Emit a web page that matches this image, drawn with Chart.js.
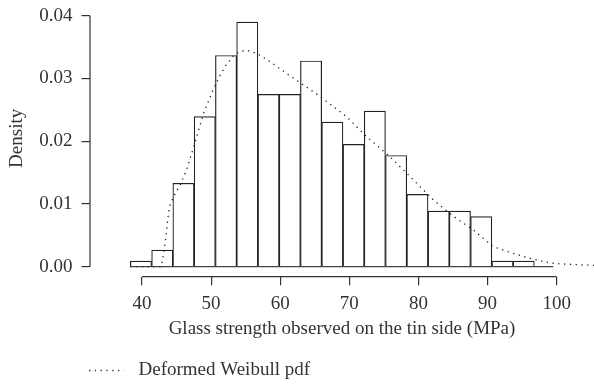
<!DOCTYPE html>
<html>
<head>
<meta charset="utf-8">
<script src="https://cdn.jsdelivr.net/npm/chart.js@4.4.1/dist/chart.umd.min.js"></script>
<style>
  html, body { margin: 0; padding: 0; background: #fff; }
  #wrap { width: 594px; height: 385px; }
</style>
</head>
<body>
<div id="wrap"><canvas id="histChart"></canvas></div>
<script>
// histogram bins (centres, MPa) and densities
var binCenters = [39.85, 42.93, 46.00, 49.08, 52.16, 55.23, 58.31, 61.39, 64.46, 67.54,
                  70.62, 73.69, 76.77, 79.85, 82.93, 86.00, 89.08, 92.16, 95.23];
var binDensity = [0.00089, 0.00266, 0.01329, 0.02392, 0.03366, 0.03898, 0.02746, 0.02746, 0.03278, 0.02303,
                  0.01949, 0.02480, 0.01772, 0.01152, 0.00886, 0.00886, 0.00797, 0.00089, 0.00089];

// deformed Weibull pdf
var pdfX = [38.3, 42.8, 43.1, 43.3, 43.5, 43.7, 43.95, 44.3, 44.8, 45.6, 46.4, 47.4, 48.9, 50.3, 51.2,
            52.2, 53.4, 54.2, 55.1, 56.0, 56.9, 57.8, 59.4, 60.9, 62.5, 65.8, 69.6, 72.5, 75.9, 79.3,
            82.2, 85.1, 88.0, 90.8, 93.2, 95.9, 97.8, 99.7, 101.7, 103.6, 105.5];
var pdfY = [0, 0, 0.0020, 0.0035, 0.0052, 0.0073, 0.0095, 0.0105, 0.0116, 0.0132, 0.0153, 0.0188, 0.0244, 0.0282, 0.0303,
            0.0322, 0.0338, 0.0343, 0.0345, 0.0342, 0.0338, 0.0332, 0.0320, 0.0308, 0.0296, 0.0271, 0.0239, 0.0207, 0.0175, 0.0138,
            0.0106, 0.0080, 0.0058, 0.0032, 0.0023, 0.0014, 0.0009, 0.0005, 0.0004, 0.0003, 0.0002];

var xTicks = [40, 50, 60, 70, 80, 90, 100];
var yTicks = [0, 0.01, 0.02, 0.03, 0.04];
var baseRange = [38.3, 99.5];

var ink = '#333333';
var fontFamily = '"Liberation Serif", "DejaVu Serif", serif';
var fontSize = 19;

var histData = binCenters.map(function(x, i) { return {x: x, y: binDensity[i]}; });
var pdfData = pdfX.map(function(x, i) { return {x: x, y: pdfY[i]}; });
var baseData = baseRange.map(function(x) { return {x: x, y: 0}; });

// R style axis lines (only between first and last tick) + the legend under the plot
var rAxes = {
    id: 'rAxes',
    afterDraw: function(chart) {
        var ctx = chart.ctx;
        var xs = chart.scales.x, ys = chart.scales.y;
        var area = chart.chartArea;
        ctx.save();
        ctx.strokeStyle = ink;
        ctx.lineWidth = 1.2;
        ctx.beginPath();
        ctx.moveTo(xs.getPixelForValue(xTicks[0]), area.bottom);
        ctx.lineTo(xs.getPixelForValue(xTicks[xTicks.length - 1]), area.bottom);
        ctx.moveTo(area.left, ys.getPixelForValue(yTicks[0]));
        ctx.lineTo(area.left, ys.getPixelForValue(yTicks[yTicks.length - 1]));
        ctx.stroke();

        // legend
        var ly = 370.5;
        ctx.setLineDash([1.3, 4.5]);
        ctx.lineWidth = 1.3;
        ctx.beginPath();
        ctx.moveTo(89, ly);
        ctx.lineTo(124, ly);
        ctx.stroke();
        ctx.setLineDash([]);
        ctx.fillStyle = ink;
        ctx.font = fontSize + 'px ' + fontFamily;
        ctx.textBaseline = 'middle';
        ctx.textAlign = 'left';
        ctx.fillText('Deformed Weibull pdf', 138.5, ly);
        ctx.restore();
    }
};

function tickColor(list) {
    return function(c) {
        if (!c.tick) return 'rgba(0,0,0,0)';
        var hit = list.some(function(v) { return Math.abs(v - c.tick.value) < 1e-9; });
        return hit ? ink : 'rgba(0,0,0,0)';
    };
}

var ctx = document.getElementById('histChart').getContext('2d');

new Chart(ctx, {
    type: 'bar',
    data: {
        datasets: [{
            type: 'line',
            label: 'Deformed Weibull pdf',
            data: pdfData,
            borderColor: '#222222',
            borderWidth: 1.3,
            borderDash: [1.3, 4.5],
            pointRadius: 0,
            tension: 0,
            fill: false,
            order: 0
        }, {
            type: 'line',
            label: 'base',
            data: baseData,
            borderColor: '#444444',
            borderWidth: 1.2,
            pointRadius: 0,
            fill: false,
            order: 1
        }, {
            type: 'bar',
            label: 'Histogram',
            data: histData,
            backgroundColor: '#ffffff',
            borderColor: '#222222',
            borderWidth: 1.2,
            barPercentage: 1,
            categoryPercentage: 1,
            order: 2
        }]
    },
    options: {
        responsive: true,
        maintainAspectRatio: false,
        animation: false,
        events: [],
        layout: { padding: 0 },
        plugins: {
            legend: { display: false },
            tooltip: { enabled: false }
        },
        scales: {
            x: {
                type: 'linear',
                offset: false,
                min: 32.476,
                max: 105.4,
                afterFit: function(scale) {
                    scale.height = 108.3;
                    scale.paddingLeft = 0;
                    scale.paddingRight = 0;
                },
                border: { display: false },
                grid: {
                    offset: false,
                    drawOnChartArea: false,
                    drawTicks: true,
                    tickLength: 8.5,
                    color: tickColor(xTicks),
                    lineWidth: 1.2
                },
                ticks: {
                    stepSize: 10,
                    includeBounds: false,
                    color: ink,
                    padding: 7,
                    maxRotation: 0,
                    autoSkip: false,
                    font: { family: fontFamily, size: fontSize },
                    callback: function(v) { return xTicks.indexOf(v) >= 0 ? String(v) : ''; }
                },
                title: {
                    display: true,
                    text: 'Glass strength observed on the tin side (MPa)',
                    color: ink,
                    font: { family: fontFamily, size: fontSize },
                    padding: { top: 0, bottom: 45 }
                }
            },
            y: {
                type: 'linear',
                min: -0.001594,
                max: 0.0425,
                afterFit: function(scale) {
                    scale.width = 90;
                    scale.paddingTop = 0;
                    scale.paddingBottom = 0;
                },
                border: { display: false },
                grid: {
                    drawOnChartArea: false,
                    drawTicks: true,
                    tickLength: 8.5,
                    color: tickColor(yTicks),
                    lineWidth: 1.2
                },
                ticks: {
                    stepSize: 0.01,
                    includeBounds: false,
                    color: ink,
                    padding: 9,
                    autoSkip: false,
                    font: { family: fontFamily, size: fontSize },
                    callback: function(v) { return v.toFixed(2); }
                },
                title: {
                    display: true,
                    text: 'Density',
                    color: ink,
                    font: { family: fontFamily, size: fontSize },
                    padding: { top: 6, bottom: 0 }
                }
            }
        }
    },
    plugins: [rAxes]
});
</script>
</body>
</html>
